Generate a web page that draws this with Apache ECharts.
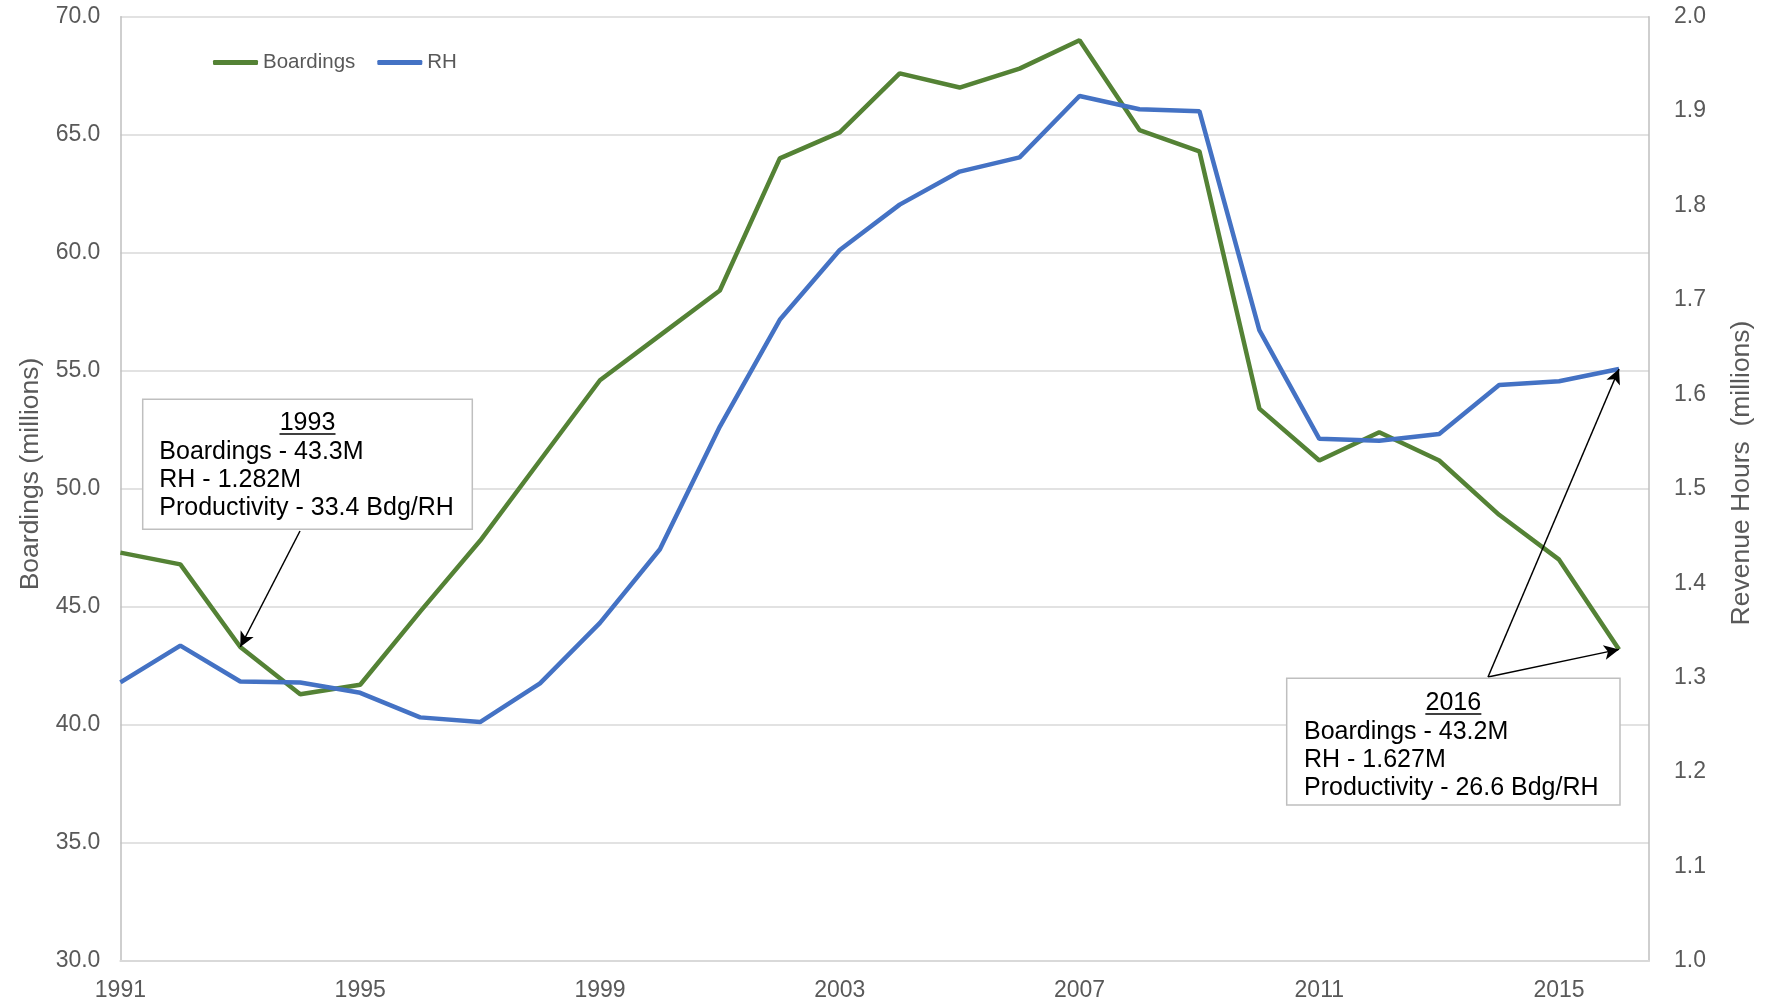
<!DOCTYPE html>
<html>
<head>
<meta charset="utf-8">
<script src="https://cdn.jsdelivr.net/npm/echarts@6/dist/echarts.min.js"></script>
<style>
html,body{margin:0;padding:0;background:#fff;}
#chart{width:1765px;height:1004px;}
</style>
</head>
<body>
<div id="chart"></div>
<script>
const years = [1991,1992,1993,1994,1995,1996,1997,1998,1999,2000,2001,2002,2003,2004,2005,2006,2007,2008,2009,2010,2011,2012,2013,2014,2015,2016];
const boardings = [47.3,46.8,43.3,41.3,41.7,44.8,47.8,51.2,54.6,56.5,58.4,64.0,65.1,67.6,67.0,67.8,69.0,65.2,64.3,53.4,51.2,52.4,51.2,48.9,47.0,43.2];
const revenueHours = [1.295,1.334,1.296,1.295,1.284,1.258,1.253,1.294,1.358,1.436,1.566,1.679,1.753,1.801,1.836,1.851,1.916,1.902,1.900,1.668,1.553,1.551,1.558,1.610,1.614,1.627];
const leftTicks = {min: 30, max: 70, interval: 5};
const rightTicks = {min: 1.0, max: 2.0, interval: 0.1};
const xTicks = {min: 1991, max: 2016.5, interval: 4};
const leftTitle = 'Boardings (millions)';
const rightTitle = 'Revenue Hours  (millions)';
const note1993 = ['1993', 'Boardings - 43.3M', 'RH - 1.282M', 'Productivity - 33.4 Bdg/RH'];
const note2016 = ['2016', 'Boardings - 43.2M', 'RH - 1.627M', 'Productivity - 26.6 Bdg/RH'];

const FONT = "'Liberation Sans', Arial, sans-serif";
const GREY = '#595959';
const GREEN = '#548235';
const BLUE = '#4472C4';

const chart = echarts.init(document.getElementById('chart'));

function noteBox(lines, x, y, w, h, textLeft, yearY, ulY, lineYs) {
  const children = [
    {type: 'rect', shape: {x: x, y: y, width: w, height: h},
     style: {fill: '#fff', stroke: '#bfbfbf', lineWidth: 1.5}, z: 100},
    {type: 'text', x: x + w / 2, y: yearY, z: 101,
     style: {text: lines[0], font: '25px ' + FONT, fill: '#000', align: 'center', verticalAlign: 'middle'}},
    {type: 'line', shape: {x1: x + w / 2 - 28, y1: ulY, x2: x + w / 2 + 28, y2: ulY},
     style: {stroke: '#000', lineWidth: 1.5}, z: 101}
  ];
  for (let i = 1; i < lines.length; i++) {
    children.push({type: 'text', x: textLeft, y: lineYs[i - 1], z: 101,
      style: {text: lines[i], font: '25px ' + FONT, fill: '#000', align: 'left', verticalAlign: 'middle'}});
  }
  return {type: 'group', children: children};
}

const arrowStyle = {
  silent: true,
  symbol: ['none', 'arrow'],
  symbolSize: [11, 15],
  label: {show: false},
  lineStyle: {color: '#000', width: 1.5, type: 'solid'},
  emphasis: {disabled: true},
  animation: false
};

const option = {
  animation: false,
  backgroundColor: '#fff',
  textStyle: {fontFamily: FONT},
  grid: {left: 120.4, right: 116, top: 16.7, bottom: 43, containLabel: false},
  legend: {
    left: 208, top: 47,
    itemWidth: 45, itemHeight: 5, itemGap: 22,
    icon: 'roundRect',
    textStyle: {fontSize: 20.5, color: GREY, fontFamily: FONT},
    data: ['Boardings', 'RH']
  },
  xAxis: {
    type: 'value',
    min: xTicks.min, max: xTicks.max, interval: xTicks.interval,
    axisLine: {show: true, lineStyle: {color: '#d9d9d9', width: 2}},
    axisTick: {show: false},
    splitLine: {show: false},
    axisLabel: {
      color: GREY, fontSize: 23, fontFamily: FONT, margin: 18,
      showMaxLabel: false,
      formatter: v => String(Math.round(v))
    }
  },
  yAxis: [
    {
      type: 'value', position: 'left',
      min: leftTicks.min, max: leftTicks.max, interval: leftTicks.interval,
      axisLine: {show: true, lineStyle: {color: '#bfbfbf', width: 1.5}},
      axisTick: {show: false},
      splitLine: {show: true, lineStyle: {color: '#d9d9d9', width: 1.5}},
      axisLabel: {color: GREY, fontSize: 23, fontFamily: FONT, margin: 20, formatter: v => v.toFixed(1)}
    },
    {
      type: 'value', position: 'right',
      min: rightTicks.min, max: rightTicks.max, interval: rightTicks.interval,
      axisLine: {show: true, lineStyle: {color: '#bfbfbf', width: 1.5}},
      axisTick: {show: false},
      splitLine: {show: false},
      axisLabel: {color: GREY, fontSize: 23, fontFamily: FONT, margin: 25, formatter: v => v.toFixed(1)}
    }
  ],
  series: [
    {
      name: 'Boardings', type: 'line', yAxisIndex: 0,
      data: years.map((y, i) => [y, boardings[i]]),
      showSymbol: false, symbol: 'none',
      lineStyle: {color: GREEN, width: 4.5},
      itemStyle: {color: GREEN},
      emphasis: {disabled: true},
      markLine: Object.assign({}, arrowStyle, {
        data: [
          [{x: 300, y: 531}, {coord: [years[2], boardings[2]]}],
          [{x: 1488, y: 677}, {coord: [years[25], boardings[25]]}]
        ]
      })
    },
    {
      name: 'RH', type: 'line', yAxisIndex: 1,
      data: years.map((y, i) => [y, revenueHours[i]]),
      showSymbol: false, symbol: 'none',
      lineStyle: {color: BLUE, width: 4.5},
      itemStyle: {color: BLUE},
      emphasis: {disabled: true},
      markLine: Object.assign({}, arrowStyle, {
        data: [
          [{x: 1488, y: 677}, {coord: [years[25], revenueHours[25]]}]
        ]
      })
    }
  ],
  graphic: [
    {type: 'text', x: 31, y: 474, rotation: Math.PI / 2,
     style: {text: leftTitle, font: '26.5px ' + FONT, fill: GREY, align: 'center', verticalAlign: 'middle'}},
    {type: 'text', x: 1742, y: 473, rotation: Math.PI / 2,
     style: {text: rightTitle, font: '26.5px ' + FONT, fill: GREY, align: 'center', verticalAlign: 'middle'}},
    noteBox(note1993, 142.7, 399.3, 329.6, 130, 159.3, 423, 434, [452, 480, 508]),
    noteBox(note2016, 1286.7, 678.3, 333.3, 126.7, 1304, 703, 714, [732, 760, 788])
  ]
};
chart.setOption(option);
</script>
</body>
</html>
